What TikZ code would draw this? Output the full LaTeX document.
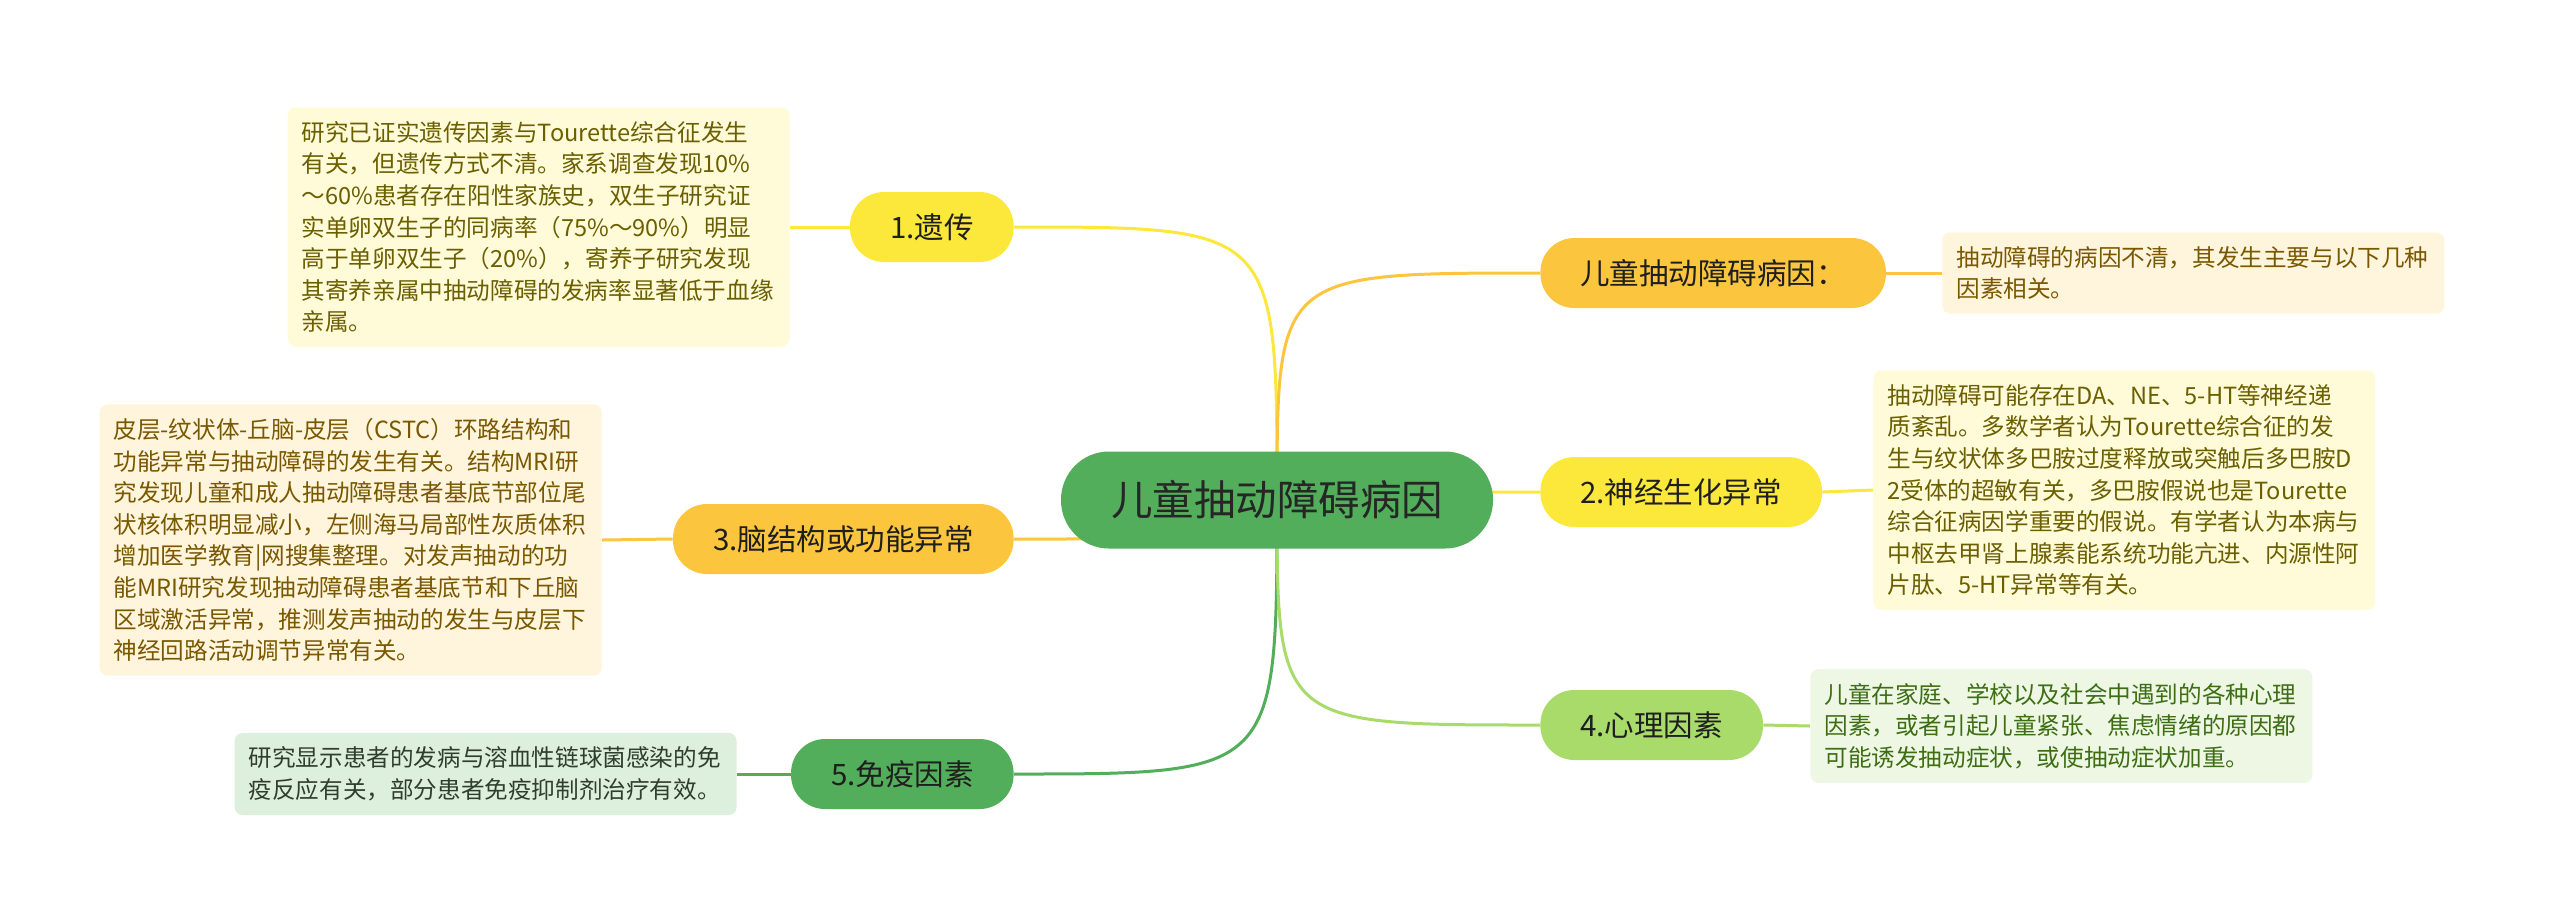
\documentclass[tikz,border=0pt]{standalone}
\usepackage{fontspec}
\setmainfont{Noto Sans CJK SC}
\usetikzlibrary{backgrounds}
\definecolor{rootgreen}{HTML}{52AE5A}
\definecolor{yel}{HTML}{FCE83A}
\definecolor{org}{HTML}{FBC53D}
\definecolor{lgreen}{HTML}{A8DB6A}
\definecolor{yelbg}{HTML}{FFFBD9}
\definecolor{orgbg}{HTML}{FEF5DC}
\definecolor{grnbg}{HTML}{DDEFDD}
\definecolor{lgrnbg}{HTML}{EEF7E4}
\definecolor{yeltx}{HTML}{6B5F00}
\definecolor{orgtx}{HTML}{7A5800}
\definecolor{grntx}{HTML}{2F3F2F}
\definecolor{lgrntx}{HTML}{3D6E14}

\begin{document}
\begin{tikzpicture}[
  x=0.5pt,y=-0.5pt,
  root/.style={fill=rootgreen,text=black!85,rounded corners=24pt,minimum width=216pt,minimum height=48.5pt,font=\fontsize{20.75pt}{24pt}\selectfont},
  br/.style={rounded corners=17pt,minimum height=35pt,inner xsep=20pt,text=black!88,font=\fontsize{14.75pt}{17pt}\selectfont},
  note/.style={rounded corners=4pt,inner sep=7pt,text width=237pt,align=left,font=\fontsize{11.8pt}{15.8pt}\selectfont},
  ln/.style={line width=1.5pt}
]
\useasboundingbox (0,0) rectangle (2560,923);

% centre
\node[root] (root) at (1277,500) {儿童抽动障碍病因};

% branches, right
\node[br,fill=org,anchor=west] (n0) at (1540,273) {儿童抽动障碍病因：};
\node[br,fill=yel,anchor=west] (n2) at (1540,492) {2.神经生化异常};
\node[br,fill=lgreen,anchor=west] (n4) at (1540,725) {4.心理因素};

% branches, left
\node[br,fill=yel,anchor=east] (n1) at (1014,227) {1.遗传};
\node[br,fill=org,anchor=east] (n3) at (1014,539) {3.脑结构或功能异常};
\node[br,fill=rootgreen,anchor=east] (n5) at (1014,774) {5.免疫因素};

% notes
\node[note,fill=orgbg,text=orgtx,anchor=west] (b0) at (1942,273) {抽动障碍的病因不清，其发生主要与以下几种\\因素相关。};
\node[note,fill=yelbg,text=yeltx,anchor=west] (b2) at (1873,490) {抽动障碍可能存在DA、NE、5-HT等神经递\\质紊乱。多数学者认为Tourette综合征的发\\生与纹状体多巴胺过度释放或突触后多巴胺D\\2受体的超敏有关，多巴胺假说也是Tourette\\综合征病因学重要的假说。有学者认为本病与\\中枢去甲肾上腺素能系统功能亢进、内源性阿\\片肽、5-HT异常等有关。};
\node[note,fill=lgrnbg,text=lgrntx,anchor=west] (b4) at (1810,726) {儿童在家庭、学校以及社会中遇到的各种心理\\因素，或者引起儿童紧张、焦虑情绪的原因都\\可能诱发抽动症状，或使抽动症状加重。};
\node[note,fill=yelbg,text=yeltx,anchor=east] (b1) at (790,227) {研究已证实遗传因素与Tourette综合征发生\\有关，但遗传方式不清。家系调查发现10\%\\～60\%患者存在阳性家族史，双生子研究证\\实单卵双生子的同病率（75\%～90\%）明显\\高于单卵双生子（20\%），寄养子研究发现\\其寄养亲属中抽动障碍的发病率显著低于血缘\\亲属。};
\node[note,fill=orgbg,text=orgtx,anchor=east] (b3) at (602,540) {皮层-纹状体-丘脑-皮层（CSTC）环路结构和\\功能异常与抽动障碍的发生有关。结构MRI研\\究发现儿童和成人抽动障碍患者基底节部位尾\\状核体积明显减小，左侧海马局部性灰质体积\\增加医学教育|网搜集整理。对发声抽动的功\\能MRI研究发现抽动障碍患者基底节和下丘脑\\区域激活异常，推测发声抽动的发生与皮层下\\神经回路活动调节异常有关。};
\node[note,fill=grnbg,text=grntx,anchor=east] (b5) at (737,774) {研究显示患者的发病与溶血性链球菌感染的免\\疫反应有关，部分患者免疫抑制剂治疗有效。};

\begin{scope}[on background layer]
\foreach \n/\c in {n1/yel,n3/org,n5/rootgreen}
  \draw[ln,\c] (root.center) .. controls (root.center |- \n.east) .. (\n.east);
\foreach \n/\c in {n0/org,n2/yel,n4/lgreen}
  \draw[ln,\c] (root.center) .. controls (root.center |- \n.west) .. (\n.west);
\draw[ln,yel] (n1.west) -- (b1.east);
\draw[ln,org] (n3.west) -- (b3.east);
\draw[ln,rootgreen] (n5.west) -- (b5.east);
\draw[ln,org] (n0.east) -- (b0.west);
\draw[ln,yel] (n2.east) -- (b2.west);
\draw[ln,lgreen] (n4.east) -- (b4.west);
\end{scope}
\end{tikzpicture}
\end{document}
